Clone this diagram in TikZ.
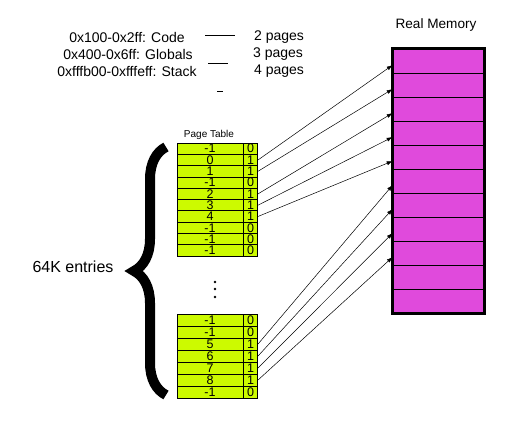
\documentclass[tikz,border=0pt]{standalone}
\usepackage{fontspec}
\setmainfont{Liberation Sans}
\usetikzlibrary{positioning,arrows.meta,decorations.pathreplacing}

\definecolor{ptgreen}{RGB}{204,250,0}
\definecolor{memmag}{RGB}{224,74,220}

\tikzset{
  ptval/.style={draw,fill=ptgreen,line width=0.7pt,minimum width=66pt,minimum height=#1,
    inner sep=0pt,font=\fontsize{12.5}{12.5}\selectfont},
  ptval/.default=11.3pt,
  ptbit/.style={draw,fill=ptgreen,line width=0.7pt,minimum width=14pt,minimum height=#1,
    inner sep=0pt,font=\fontsize{12.5}{12.5}\selectfont},
  ptbit/.default=11.3pt,
  memrow/.style={draw,fill=memmag,line width=0.6pt,minimum width=91pt,minimum height=24pt,inner sep=0pt},
  lbl/.style={inner sep=0pt,font=\fontsize{14}{14}\selectfont},
  map/.style={-{Latex[length=6pt,width=4pt]},line width=0.5pt},
}

\begin{document}
\begin{tikzpicture}[x=1pt,y=-1pt]
  \useasboundingbox (0,0) rectangle (512,440);
  % segments
  \node[lbl] (code) at (127,37) {0x100-0x2ff: Code};
  \node[lbl] (glob) at (128,54) {0x400-0x6ff: Globals};
  \node[lbl] (stack) at (127,71) {0xfffb00-0xfffeff: Stack};
  \node[lbl] (pcode) at (279,37) {2 pages};
  \node[lbl] (pglob) at (278,54) {3 pages};
  \node[lbl] (pstack) at (279,71) {4 pages};
  \draw[line width=0.6pt] (205,35) -- (235,35);
  \draw[line width=0.6pt] (208,63) -- (228,63);
  \draw[line width=0.6pt] (217,91) -- (223,91);
  % page table, top part
  \node[inner sep=0pt,font=\fontsize{10}{10}\selectfont] (pt) at (209,135) {Page Table};
  \foreach \v/\b [count=\i] in {-1/0,0/1,1/1,-1/0,2/1,3/1,4/1,-1/0,-1/0,-1/0} {
    \node[ptval] (v\i) at (210,{143+11.3*(\i-0.5)}) {\v};
    \node[ptbit,right=0pt of v\i] (b\i) {\b};
  }
  % dots
  \foreach \y [count=\k] in {282,289,297}
    \fill (215,\y) circle (1.4pt) coordinate (dot\k);
  % page table, bottom part
  \foreach \v/\b [count=\i] in {-1/0,-1/0,5/1,6/1,7/1,8/1,-1/0} {
    \node[ptval=12pt] (w\i) at (210,{314+12*(\i-0.5)}) {\v};
    \node[ptbit=12pt,right=0pt of w\i] (c\i) {\b};
  }
  % brace
  \draw[line width=10pt,decorate,decoration={brace,amplitude=32pt}] (166,395) -- (166,147);
  \node[inner sep=0pt,font=\fontsize{16}{16}\selectfont] (entries) at (73,267) {64K entries};
  % real memory
  \node[lbl,font=\fontsize{13.6}{14}\selectfont] (rm) at (436,25) {Real Memory};
  \foreach \j in {1,...,11}
    \node[memrow] (m\j) at (438.5,{49+24*(\j-0.5)}) {};
  \draw[line width=3pt] (m1.north west) rectangle (m11.south east);
  % mappings
  \foreach \i/\j in {2/1,3/2,5/3,6/4,7/5}
    \draw[map] (b\i.east) -- ([yshift=-4pt]m\j.west);
  \foreach \i/\j in {3/6,4/7,5/8,6/9}
    \draw[map] (c\i.east) -- ([yshift=-4pt]m\j.west);
\end{tikzpicture}
\end{document}
